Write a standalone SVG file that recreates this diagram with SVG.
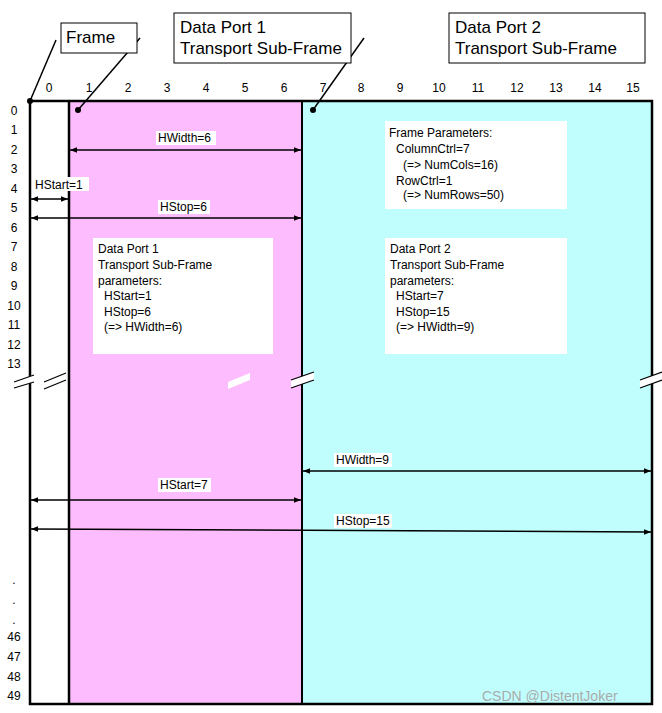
<svg xmlns="http://www.w3.org/2000/svg" width="662" height="713" viewBox="0 0 662 713">
<style>
text{font-family:"Liberation Sans",Arial,sans-serif;fill:#000}
.s{font-size:12px}
.b{font-size:17px}
.ax{font-size:12px;text-anchor:middle}
.ln{stroke:#000;stroke-width:1.5;fill:none}
.ar{stroke:#000;stroke-width:1.5;marker-start:url(#a);marker-end:url(#a)}
.lb{fill:#fff}
</style>
<defs>
<marker id="a" viewBox="0 0 10 10" refX="10" refY="5" markerWidth="7" markerHeight="7" orient="auto-start-reverse" markerUnits="userSpaceOnUse"><path d="M0,1 L10,5 L0,9 Z" fill="#000"/></marker>
</defs>
<rect width="662" height="713" fill="#fff"/>
<g id="frame">
<rect x="30" y="101" width="39" height="603" fill="#fff"/>
<rect x="69" y="101" width="233" height="603" fill="#fdbcfd"/>
<rect x="302" y="101" width="350" height="603" fill="#c0fefe"/>
<rect x="30" y="101" width="622" height="603" fill="none" stroke="#000" stroke-width="2.5"/>
<line x1="69" y1="101" x2="69" y2="704" stroke="#000" stroke-width="2.5"/>
<line x1="302" y1="101" x2="302" y2="704" stroke="#000" stroke-width="2"/>
<circle cx="30" cy="101" r="3"/>
<circle cx="78" cy="110" r="3"/>
<circle cx="313" cy="110" r="3"/>
</g>
<g id="breaks" stroke="#000" stroke-width="1.2" fill="#fff">
<path d="M14,381 L34,375 L34,382 L14,388 Z M14,381 L34,375 M14,388 L34,382" stroke="none"/>
<path d="M14,382 L34,375 M14,388 L34,382"/>
<path d="M44,382 L66,373 L66,380 L44,389 Z" stroke="none"/>
<path d="M44,382 L66,373 M44,389 L66,380"/>
<path d="M228,382 L250,373 L250,380 L228,389 Z" stroke="none" transform="translate(0,0)"/>
<path d="M291,380 L314,372 L314,380 L291,388 Z" stroke="none"/>
<path d="M291,380 L314,372 M291,388 L314,380"/>
<path d="M640,380 L662,372 L662,380 L640,388 Z" stroke="none"/>
<path d="M640,380 L662,372 M640,388 L662,380"/>
</g>
<g id="axes">
<text class="ax" x="49" y="92">0</text><text class="ax" x="89" y="92">1</text><text class="ax" x="128" y="92">2</text><text class="ax" x="167" y="92">3</text><text class="ax" x="206" y="92">4</text><text class="ax" x="245" y="92">5</text><text class="ax" x="284" y="92">6</text><text class="ax" x="323" y="92">7</text><text class="ax" x="361" y="92">8</text><text class="ax" x="400" y="92">9</text><text class="ax" x="439" y="92">10</text><text class="ax" x="478" y="92">11</text><text class="ax" x="517" y="92">12</text><text class="ax" x="556" y="92">13</text><text class="ax" x="595" y="92">14</text><text class="ax" x="633" y="92">15</text>
<text class="ax" x="14" y="115">0</text><text class="ax" x="14" y="134">1</text><text class="ax" x="14" y="154">2</text><text class="ax" x="14" y="173">3</text><text class="ax" x="14" y="193">4</text><text class="ax" x="14" y="212">5</text><text class="ax" x="14" y="232">6</text><text class="ax" x="14" y="251">7</text><text class="ax" x="14" y="271">8</text><text class="ax" x="14" y="290">9</text><text class="ax" x="14" y="310">10</text><text class="ax" x="14" y="329">11</text><text class="ax" x="14" y="349">12</text><text class="ax" x="14" y="368">13</text>
<text class="ax" x="14" y="584">.</text><text class="ax" x="14" y="604">.</text><text class="ax" x="14" y="624">.</text>
<text class="ax" x="14" y="641">46</text><text class="ax" x="14" y="661">47</text><text class="ax" x="14" y="681">48</text><text class="ax" x="14" y="700">49</text>
</g>
<g id="callouts">
<line class="ln" x1="30" y1="101" x2="56" y2="40" stroke-width="1"/>
<line class="ln" x1="78" y1="110" x2="140" y2="38" stroke-width="1"/>
<line class="ln" x1="313" y1="110" x2="364" y2="38" stroke-width="1"/>
<rect x="61" y="23" width="76" height="30" fill="#fff" stroke="#000"/>
<text class="b" x="66" y="43">Frame</text>
<rect x="174" y="13" width="177" height="50" fill="#fff" stroke="#000"/>
<text class="b" x="180" y="33">Data Port 1</text><text class="b" x="180" y="54">Transport Sub-Frame</text>
<rect x="449" y="13" width="196" height="50" fill="#fff" stroke="#000"/>
<text class="b" x="455" y="33">Data Port 2</text><text class="b" x="455" y="54">Transport Sub-Frame</text>
</g>
<g id="boxes">
<rect class="lb" x="385" y="121" width="182" height="88"/>
<text class="s" x="389" y="137">Frame Parameters:</text><text class="s" x="396" y="153">ColumnCtrl=7</text><text class="s" x="403" y="169">(=&gt; NumCols=16)</text><text class="s" x="396" y="185">RowCtrl=1</text><text class="s" x="403" y="199">(=&gt; NumRows=50)</text>
<rect class="lb" x="93" y="238" width="180" height="116"/>
<text class="s" x="98" y="253">Data Port 1</text><text class="s" x="98" y="269">Transport Sub-Frame</text><text class="s" x="98" y="285">parameters:</text><text class="s" x="104" y="300">HStart=1</text><text class="s" x="104" y="316">HStop=6</text><text class="s" x="104" y="331">(=&gt; HWidth=6)</text>
<rect class="lb" x="385" y="238" width="182" height="116"/>
<text class="s" x="390" y="253">Data Port 2</text><text class="s" x="390" y="269">Transport Sub-Frame</text><text class="s" x="390" y="285">parameters:</text><text class="s" x="396" y="300">HStart=7</text><text class="s" x="396" y="316">HStop=15</text><text class="s" x="396" y="331">(=&gt; HWidth=9)</text>
</g>
<g id="connectors">
<line class="ar" x1="70" y1="150" x2="301" y2="150"/>
<line class="ar" x1="31" y1="199" x2="68" y2="199"/>
<line class="ar" x1="31" y1="218" x2="301" y2="218"/>
<line class="ar" x1="303" y1="471" x2="651" y2="471"/>
<line class="ar" x1="31" y1="500" x2="301" y2="500"/>
<line class="ar" x1="31" y1="529" x2="651" y2="532"/>
<rect class="lb" x="156" y="131" width="60" height="14"/><text class="s" x="158" y="142">HWidth=6</text>
<rect class="lb" x="33" y="177" width="56" height="14"/><text class="s" x="35" y="189">HStart=1</text>
<rect class="lb" x="158" y="200" width="52" height="14"/><text class="s" x="160" y="211">HStop=6</text>
<rect class="lb" x="334" y="453" width="58" height="14"/><text class="s" x="336" y="464">HWidth=9</text>
<rect class="lb" x="158" y="478" width="53" height="14"/><text class="s" x="160" y="489">HStart=7</text>
<rect class="lb" x="334" y="514" width="58" height="14"/><text class="s" x="336" y="525">HStop=15</text>
</g>
<text x="482" y="701" style="font-size:14px;fill:#aaaaaa">CSDN @DistentJoker</text>
</svg>
